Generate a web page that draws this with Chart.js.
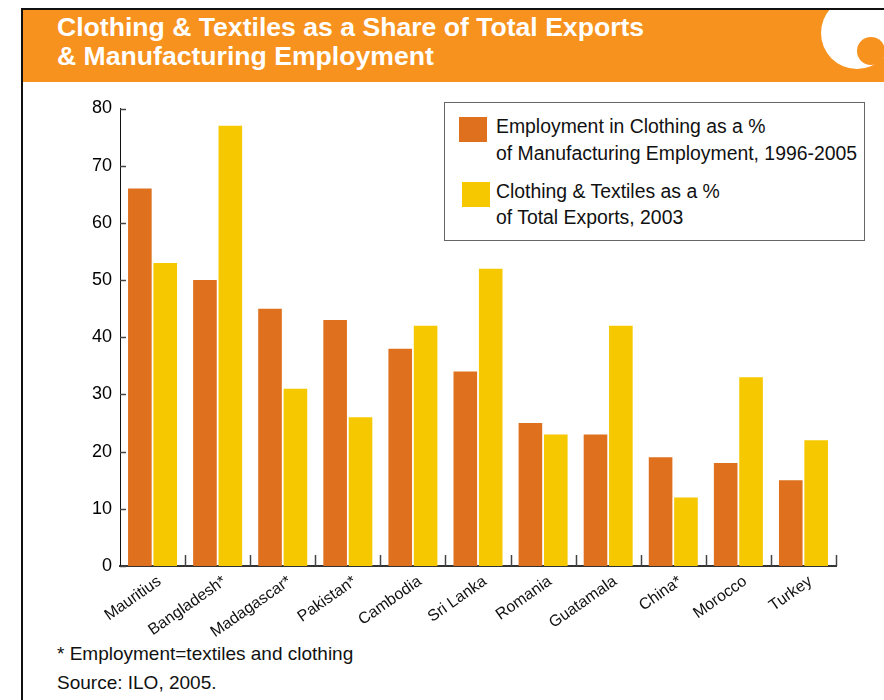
<!DOCTYPE html>
<html lang="en">
<head>
  <meta charset="UTF-8" />
  <title>Clothing & Textiles as a Share of Total Exports & Manufacturing Employment</title>
  <script src="https://cdn.jsdelivr.net/npm/chart.js"></script>
  <style>
    body { margin: 0; background: #fff; font-family: "Liberation Sans", Arial, sans-serif; color: #111; }
    #page { position: relative; width: 884px; height: 700px; overflow: hidden; }
    #frameTop { position: absolute; left: 21px; top: 8px; width: 863px; height: 1.5px; background: #111; }
    #frameLeft { position: absolute; left: 21px; top: 8px; width: 1.5px; height: 692px; background: #111; }
    #header { position: absolute; left: 22px; top: 9px; width: 862px; height: 73px; background: #F7921E; overflow: hidden; }
    #header .line { position: absolute; left: 35px; color: #fff; font-weight: bold; font-size: 26.6px; line-height: 1; white-space: nowrap; }
    #logoOuter { position: absolute; left: 799px; top: -12px; width: 72px; height: 72px; border-radius: 50%; background: #fff; }
    #logoInner { position: absolute; left: 835px; top: 28px; width: 28px; height: 28px; border-radius: 50%; background: #F7921E; }
    #chartWrap { position: absolute; left: 0; top: 84px; width: 884px; height: 556px; }
    #legend { position: absolute; left: 444px; top: 102px; width: 419px; height: 137px; border: 1.5px solid #666; background: #fff; }
    .swatch { position: absolute; width: 28px; height: 25px; }
    .ltext { position: absolute; font-size: 19.4px; line-height: 1; white-space: nowrap; }
    .note { position: absolute; left: 57px; font-size: 19px; line-height: 1; white-space: nowrap; }
  </style>
</head>
<body>
  <div id="page">
    <div id="header">
      <div class="line" style="top: 5px;">Clothing &amp; Textiles as a Share of Total Exports</div>
      <div class="line" style="top: 34px;">&amp; Manufacturing Employment</div>
      <div id="logoOuter"></div>
      <div id="logoInner"></div>
    </div>
    <div id="frameTop"></div>
    <div id="frameLeft"></div>

    <div id="chartWrap"><canvas id="exportChart" width="884" height="556"></canvas></div>

    <div id="legend"></div>

    <div class="note" style="top: 644px;">* Employment=textiles and clothing</div>
    <div class="note" style="top: 673px;">Source: ILO, 2005.</div>
  </div>

  <script>
    const countries = ['Mauritius', 'Bangladesh*', 'Madagascar*', 'Pakistan*', 'Cambodia', 'Sri Lanka',
                       'Romania', 'Guatamala', 'China*', 'Morocco', 'Turkey'];
    const employmentShare = [66, 50, 45, 43, 38, 34, 25, 23, 19, 18, 15];
    const exportShare = [53, 77, 31, 26, 42, 52, 23, 42, 12, 33, 22];
    const seriesLabels = [
      ['Employment in Clothing as a %', 'of Manufacturing Employment, 1996-2005'],
      ['Clothing & Textiles as a %', 'of Total Exports, 2003']
    ];
    const seriesColors = ['#DE701E', '#F5C800'];
    const yMin = 0, yMax = 80, yStep = 10;

    // legend box, two-line labels
    const legendEl = document.getElementById('legend');
    const swatchPos = [{ left: 14, top: 14 }, { left: 17, top: 79 }];
    const textTops = [[14, 41], [79, 105]];
    seriesLabels.forEach((lines, i) => {
      const sw = document.createElement('div');
      sw.className = 'swatch';
      sw.style.left = swatchPos[i].left + 'px';
      sw.style.top = swatchPos[i].top + 'px';
      sw.style.background = seriesColors[i];
      legendEl.appendChild(sw);
      lines.forEach((txt, j) => {
        const t = document.createElement('div');
        t.className = 'ltext';
        t.style.left = '51px';
        t.style.top = textTops[i][j] + 'px';
        t.textContent = txt;
        legendEl.appendChild(t);
      });
    });

    // small tick marks pointing into the plot area
    const innerTicks = {
      id: 'innerTicks',
      afterDatasetsDraw(chart) {
        const { ctx, chartArea, scales } = chart;
        ctx.save();
        ctx.strokeStyle = '#444';
        ctx.lineWidth = 1.5;
        scales.y.ticks.forEach(t => {
          const y = Math.round(scales.y.getPixelForValue(t.value)) + 0.5;
          ctx.beginPath();
          ctx.moveTo(chartArea.left, y);
          ctx.lineTo(chartArea.left + 6, y);
          ctx.stroke();
        });
        const n = countries.length;
        const w = (chartArea.right - chartArea.left) / n;
        for (let i = 1; i <= n; i++) {
          const x = Math.round(scales.x.getPixelForTick(i - 1) + w / 2) + 0.5;
          ctx.beginPath();
          ctx.moveTo(x, chartArea.bottom);
          ctx.lineTo(x, chartArea.bottom - 11);
          ctx.stroke();
        }
        ctx.restore();
      }
    };

    const ctx = document.getElementById('exportChart').getContext('2d');
    new Chart(ctx, {
      type: 'bar',
      data: {
        labels: countries,
        datasets: seriesLabels.map((lines, i) => ({
          label: lines.join(' '),
          data: i === 0 ? employmentShare : exportShare,
          backgroundColor: seriesColors[i],
          borderWidth: 0,
          categoryPercentage: 0.78,
          barPercentage: 0.93
        }))
      },
      options: {
        responsive: false,
        animation: false,
        layout: { padding: { top: 24.5, right: 48, left: 0, bottom: 0 } },
        plugins: { legend: { display: false }, tooltip: { enabled: false } },
        scales: {
          x: {
            grid: { display: false, drawTicks: false },
            border: { display: true, color: '#333', width: 2 },
            ticks: {
              autoSkip: false,
              minRotation: 35,
              maxRotation: 35,
              padding: 6,
              labelOffset: 7,
              color: '#111',
              font: { family: '"Liberation Sans", Arial, sans-serif', size: 16 }
            },
            afterFit(scale) { scale.height = 74; }
          },
          y: {
            min: yMin,
            max: yMax,
            grid: { display: false, drawTicks: false },
            border: { display: true, color: '#111', width: 1 },
            ticks: {
              stepSize: yStep,
              padding: 8,
              color: '#000',
              font: { family: '"Liberation Sans Narrow", "Liberation Sans", Arial, sans-serif', size: 18 }
            },
            afterFit(scale) { scale.width = 120; }
          }
        }
      },
      plugins: [innerTicks]
    });
  </script>
</body>
</html>
